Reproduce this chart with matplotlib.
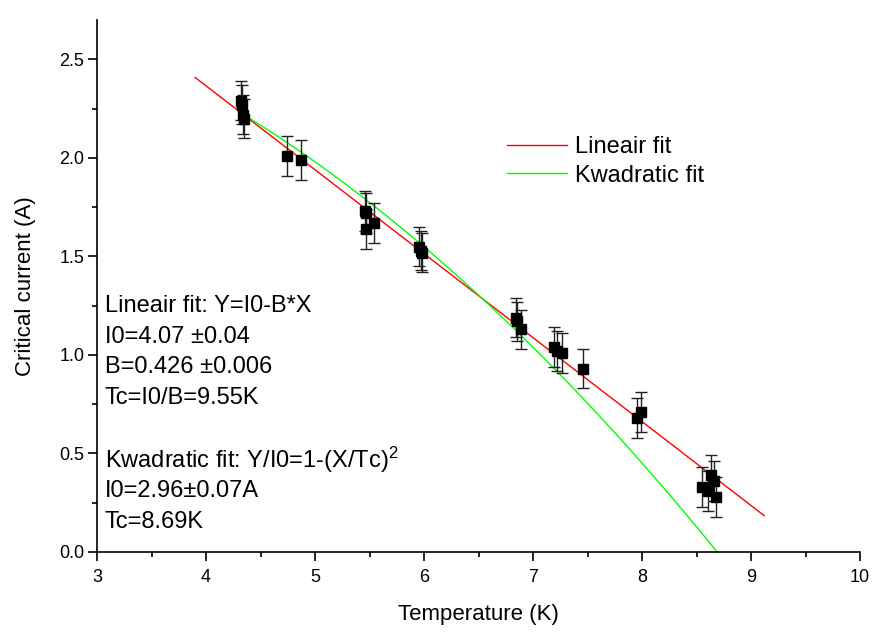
import numpy as np
import matplotlib
matplotlib.use("Agg")
import matplotlib.pyplot as plt

plt.rcParams["font.family"] = ["Liberation Sans", "DejaVu Sans"]
plt.rcParams["mathtext.fontset"] = "custom"
plt.rcParams["mathtext.rm"] = "Liberation Sans"
plt.rcParams["mathtext.default"] = "regular"

# measured points (temperature in K, critical current in A)
temp = [4.32, 4.33, 4.34, 4.35, 4.74, 4.87, 5.46, 5.47, 5.47, 5.54,
        5.95, 5.97, 5.98, 6.84, 6.85, 6.89, 7.19, 7.22, 7.27, 7.46,
        7.95, 7.99, 8.55, 8.61, 8.63, 8.66, 8.68]
current = [2.29, 2.27, 2.22, 2.20, 2.01, 1.99, 1.73, 1.72, 1.64, 1.67,
           1.55, 1.53, 1.52, 1.19, 1.17, 1.13, 1.04, 1.02, 1.01, 0.93,
           0.68, 0.71, 0.33, 0.31, 0.39, 0.36, 0.28]
current_err = [0.1] * len(temp)

# fit results
lin_I0, lin_B = 4.07, 0.426
lin_range = (3.9, 9.12)
quad_I0, quad_Tc = 2.96, 8.69
quad_range = (4.35, 8.69)

fig = plt.figure(figsize=(8.74, 6.37), dpi=100)
ax = fig.add_axes([97 / 874, 85 / 637, 763 / 874, 532 / 637])

xl = np.linspace(*lin_range, 50)
ax.plot(xl, lin_I0 - lin_B * xl, color="#ff0000", lw=1, label="Lineair fit")
xq = np.linspace(*quad_range, 200)
ax.plot(xq, quad_I0 * (1 - (xq / quad_Tc) ** 2), color="#00ff00", lw=1,
        label="Kwadratic fit")

ax.errorbar(temp, current, yerr=current_err, fmt="s", color="black",
            ms=7.5, elinewidth=1, capsize=4, capthick=1, ecolor="#222222",
            zorder=3)

ax.set_xlim(3, 10)
ax.set_ylim(0, 2.7)
ax.set_xticks(range(3, 11))
ax.set_xticks(np.arange(3.5, 10, 1.0), minor=True)
ax.set_yticks([0.0, 0.5, 1.0, 1.5, 2.0, 2.5])
ax.set_yticks([0.25, 0.75, 1.25, 1.75, 2.25], minor=True)
ax.yaxis.set_major_formatter(matplotlib.ticker.FormatStrFormatter("%.1f"))
ax.tick_params(which="major", direction="out", length=6.5, width=1.2,
               labelsize=13)
ax.tick_params(axis="x", which="major", pad=6)
ax.tick_params(axis="y", which="major", pad=2.5)
ax.tick_params(which="minor", direction="out", length=3.6, width=1.2)
for s in ["top", "right"]:
    ax.spines[s].set_visible(False)
for s in ["left", "bottom"]:
    ax.spines[s].set_linewidth(1.2)

ax.set_xlabel("Temperature (K)", fontsize=16)
ax.set_ylabel("Critical current (A)", fontsize=16)
ax.xaxis.set_label_coords(0.5, -0.098)
ax.yaxis.set_label_coords(-0.08, 0.5)

lines = [
    (1.249, "Lineair fit: Y=I0-B*X"),
    (1.091, "I0=4.07 \u00b10.04"),
    (0.939, "B=0.426 \u00b10.006"),
    (0.782, "Tc=I0/B=9.55K"),
    (0.467, "Kwadratic fit: Y/I0=1-(X/Tc)$^{2}$"),
    (0.310, "I0=2.96\u00b10.07A"),
    (0.152, "Tc=8.69K"),
]
for yv, txt in lines:
    ax.text(3.073, yv, txt, fontsize=17, va="center", ha="left")

ax.legend(loc="upper left", bbox_to_anchor=(507 / 874, 1 - 136 / 637),
          bbox_transform=fig.transFigure, frameon=False, fontsize=17,
          handlelength=2.55, handletextpad=0.35, labelspacing=0.28,
          borderpad=0, borderaxespad=0)

fig.savefig("out.png", dpi=100)
